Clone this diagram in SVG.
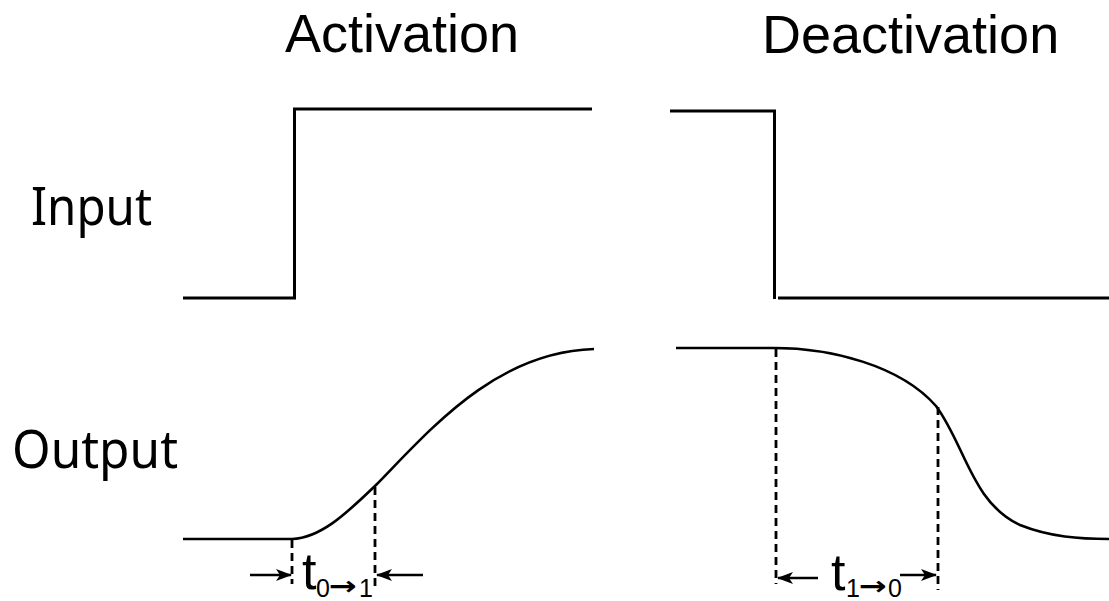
<svg xmlns="http://www.w3.org/2000/svg" width="1109" height="601" viewBox="0 0 1109 601">
<style>
.title{font-family:"Liberation Sans",Arial,sans-serif;font-size:54px;fill:#000}
.lbl{font-family:"Noto Sans","Open Sans",sans-serif;font-size:53px;fill:#000}
.sig{fill:none;stroke:#000;stroke-width:3;stroke-linejoin:miter}
.crv{fill:none;stroke:#000;stroke-width:2.6}
.dash{fill:none;stroke:#000;stroke-width:2.8;stroke-dasharray:8 5}
.dim{fill:none;stroke:#000;stroke-width:2.4}
.t{font-family:"Liberation Sans",Arial,sans-serif;font-size:52px;fill:#000}
.sub{font-size:25px}
.arr{font-family:"DejaVu Sans",sans-serif;font-size:26px;font-weight:bold}
</style>
<defs>
<marker id="ah" viewBox="0 0 16 12" refX="15" refY="6" markerWidth="16" markerHeight="12" markerUnits="userSpaceOnUse" orient="auto">
<path d="M0,0 L16,6 L0,12 L4,6 Z" fill="#000"/>
</marker>
</defs>
<g id="title-activation"><text class="title" x="285" y="52">Activation</text></g>
<g id="title-deactivation"><text class="title" x="762" y="53">Deactivation</text></g>
<g id="label-input"><text class="lbl" x="31" y="225" textLength="121" lengthAdjust="spacingAndGlyphs">Input</text></g>
<g id="label-output"><text class="lbl" x="12" y="468" textLength="166" lengthAdjust="spacingAndGlyphs">Output</text></g>
<g id="input-activation"><path class="sig" d="M183,298 H294.5 V109 H592"/></g>
<g id="input-deactivation"><path class="sig" d="M670,111 H774.5 V299"/><path class="sig" d="M778,298 H1109"/></g>
<g id="output-activation"><path class="crv" d="M183,539 H292 C320,538 345,515 376,485 C430,430 495,352 594,349"/></g>
<g id="output-deactivation"><path class="crv" d="M676,348 H774 C830,348 900,365 936,406 C965,445 972,503 1020,525 C1050,537 1080,539 1109,539"/></g>
<g id="connectors">
<path class="dash" d="M292,540 V584"/>
<path class="dash" d="M375,487 V590"/>
<path class="dash" d="M776,349 V584"/>
<path class="dash" d="M938,407 V590"/>
<path class="dim" d="M250,575 H291" marker-end="url(#ah)"/>
<path class="dim" d="M423,575 H377" marker-end="url(#ah)"/>
<path class="dim" d="M818,578 H778" marker-end="url(#ah)"/>
<path class="dim" d="M900,575 H936" marker-end="url(#ah)"/>
</g>
<g id="label-t01"><text class="t" x="302" y="589">t<tspan class="sub" x="316" y="597">0</tspan><tspan class="arr" x="329" y="595" textLength="28" lengthAdjust="spacingAndGlyphs">→</tspan><tspan class="sub" x="359" y="597">1</tspan></text></g>
<g id="label-t10"><text class="t" x="831" y="590">t<tspan class="sub" x="846" y="597">1</tspan><tspan class="arr" x="859" y="595" textLength="28" lengthAdjust="spacingAndGlyphs">→</tspan><tspan class="sub" x="888" y="597">0</tspan></text></g>
</svg>
